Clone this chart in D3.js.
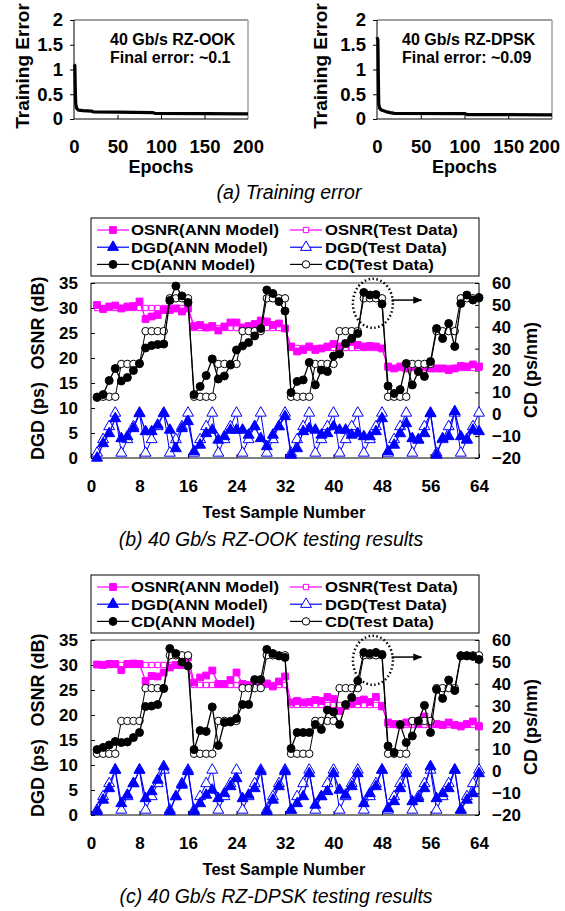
<!DOCTYPE html>
<html><head><meta charset="utf-8">
<script src="https://cdn.jsdelivr.net/npm/d3@7"></script>
<style>
body{margin:0;background:#fff}
svg{display:block}
text{font-family:"Liberation Sans",Arial,Helvetica,sans-serif}
</style>
</head><body>
<svg id="chart" width="565" height="911"></svg>
<script>
// ---------------- DATA ----------------
// (a) training error curves
const ookEpochs   = [0, 1, 1.5, 2, 3, 5, 10, 20, 22, 50, 90, 93, 150, 200];
const ookError    = [1.1, 1.08, 0.6, 0.3, 0.22, 0.18, 0.17, 0.16, 0.145, 0.14, 0.13, 0.115, 0.11, 0.105];
const dpskEpochs  = [0, 1, 1.5, 2, 3, 5, 10, 15, 20, 100, 103, 200];
const dpskError   = [1.65, 1.6, 0.9, 0.3, 0.22, 0.18, 0.15, 0.13, 0.115, 0.11, 0.09, 0.085];
const epochTicks  = [0, 50, 100, 150, 200];
const errorTicks  = [0, 0.5, 1, 1.5, 2];

// (b),(c) test samples 1..64
const samples = [1,2,3,4,5,6,7,8,9,10,11,12,13,14,15,16,17,18,19,20,21,22,23,24,25,26,27,28,29,30,31,32,
                 33,34,35,36,37,38,39,40,41,42,43,44,45,46,47,48,49,50,51,52,53,54,55,56,57,58,59,60,61,62,63,64];
const sampleTicks = [0, 8, 16, 24, 32, 40, 48, 56, 64];
const leftTicks   = [0, 5, 10, 15, 20, 25, 30, 35];
const cdTicks     = [-20, -10, 0, 10, 20, 30, 40, 50, 60];

// Test data (same set for both formats)
const osnrTest = [30,30,30,30,30,30,30,30,30,30,30,30,30,30,30,30,
                  26,26,26,26,26,26,26,26,26,26,26,26,26,26,26,26,
                  22,22,22,22,22,22,22,22,22,22,22,22,22,22,22,22,
                  18,18,18,18,18,18,18,18,18,18,18,18,18,18,18,18];
const dgdTest  = [1,3.7,6.3,9, 1,3.7,6.3,9, 1,3.7,6.3,9, 1,3.7,6.3,9,
                  1,3.7,6.3,9, 1,3.7,6.3,9, 1,3.7,6.3,9, 1,3.7,6.3,9,
                  1,3.7,6.3,9, 1,3.7,6.3,9, 1,3.7,6.3,9, 1,3.7,6.3,9,
                  1,3.7,6.3,9, 1,3.7,6.3,9, 1,3.7,6.3,9, 1,3.7,6.3,9];
const cdTest   = [8,8,8,8,23,23,23,23,38,38,38,38,53,53,53,53,
                  8,8,8,8,23,23,23,23,38,38,38,38,53,53,53,53,
                  8,8,8,8,23,23,23,23,38,38,38,38,53,53,53,53,
                  8,8,8,8,23,23,23,23,38,38,38,38,53,53,53,53];

// (b) RZ-OOK ANN model
const osnrAnnOOK = [30.6,29.8,30.3,30.5,29.9,30.3,30.4,31.3,27.8,28.3,28.6,29.6,29.6,29.9,29.3,29.9,
                    26.4,26.6,26.1,26.4,25.5,26.3,27.1,27.1,26.1,26.4,26.8,27.5,27.3,26.6,26.9,25.9,
                    22.3,21.3,21.6,22.3,21.6,21.9,22.3,22.8,22.3,22.9,23.3,22.6,22.3,22.4,22.3,21.9,
                    18.3,17.9,18.3,17.9,18.3,17.6,18.3,17.9,17.9,17.9,17.6,17.9,18.4,18.3,18.7,18.3];
const dgdAnnOOK  = [0,2.9,4.9,7.9,3.9,4.3,5.9,8.9,5.3,5.3,6.6,8.9,5.6,1.9,5.9,7.3,
                    1.3,2.6,4.9,5.6,3.6,4.3,5.6,5.6,5.6,4.6,6.3,3.9,2.3,4.6,6.3,8.3,
                    0.6,1.9,5.3,5.9,5.6,4.6,4.9,6.3,5.6,5.6,4.6,4.9,4.3,4.3,5.3,7.9,
                    1.3,2.6,4.9,6.9,3.9,3.6,4.9,8.9,0.6,3.9,4.3,9.3,4.3,3.6,5.6,5.3];
const cdAnnOOK   = [7.7,9.0,15.4,20.9,15.2,16.8,20.0,23.2,30.3,31.4,31.9,32.1,52.0,58.6,54.1,51.1,
                    9.0,12.7,17.7,25.3,16.1,17.5,22.5,29.4,31.2,32.8,35.8,39.2,56.8,55.2,51.5,47.2,
                    9.9,15.0,15.7,23.7,13.4,20.2,19.5,26.6,27.5,32.3,34.6,36.9,55.7,54.5,54.7,50.4,
                    12.9,9.5,11.3,23.2,13.4,19.5,17.3,24.1,39.2,34.6,41.5,31.0,50.6,54.5,52.2,53.4];

// (c) RZ-DPSK ANN model
const osnrAnnDPSK = [30.1,30.0,30.2,30.2,29.0,30.2,30.3,30.2,26.8,27.8,27.7,28.5,29.5,30.0,30.0,31.5,
                     26.5,27.5,27.9,28.9,26.2,26.2,27.0,28.5,26.2,26.0,26.2,26.0,26.3,25.7,26.7,27.7,
                     22.5,22.8,22.5,22.6,23.0,22.8,23.6,23.2,20.8,21.8,22.4,22.8,23.1,22.6,23.6,21.7,
                     18.5,18.2,18.0,18.5,18.7,18.3,19.7,18.5,18.2,18.0,18.5,18.0,17.7,18.2,18.7,17.7];
const dgdAnnDPSK  = [0.7,3,5.3,9,2.3,4,6.3,9,3.3,4.7,7,9.7,0.7,3.7,6,8.7,
                     0.7,2.3,4,5,3.3,4.3,5.7,7.3,3.3,4,5.3,8.7,0.7,3,5.7,8.7,
                     1,2.3,3.7,8.3,2,3.7,4.7,8.3,5,4,5.7,8.3,2.3,4.3,5.7,9,
                     1.3,2.7,5.3,8.3,2.7,3.3,5.3,9.7,3.3,4.3,5.3,9,1,3,4.3,8.3];
const cdAnnDPSK   = [9.9,10.9,12.0,13.6,13.1,13.4,15.4,17.7,29.6,29.8,30.5,37.8,56.1,53.8,49.9,48.1,
                     9.9,18.6,18.2,29.4,11.8,22.3,22.5,24.1,30.5,30.5,41.9,41.9,55.7,53.8,52.7,52.0,
                     10.4,17.7,17.7,17.7,21.4,19.1,28.0,27.1,21.4,30.5,33.7,41.3,54.3,53.8,54.3,53.4,
                     11.5,8.6,21.4,13.1,16.1,23.0,30.1,17.7,37.4,33.3,41.7,36.9,52.7,52.7,52.5,51.1];

// highlighted region (sample, CD) and arrow
const highlight = {x: 46.5, cd: 50.7};
const arrowFrom = {x: 49.6, cd: 52.2};
const arrowTo   = {x: 54.5, cd: 52.2};

const legendLabels = ["OSNR(ANN Model)","DGD(ANN Model)","CD(ANN Model)",
                      "OSNR(Test Data)","DGD(Test Data)","CD(Test Data)"];

// ---------------- DRAW ----------------
const MAG = "#ff00ff", BLUE = "#0000ff", BLK = "#000000", GRAY = "#a0a0a0";
const svg = d3.select("#chart");
const FONT = '"Liberation Sans",Arial,Helvetica,sans-serif';

svg.append("defs").append("marker")
  .attr("id","arrowhead").attr("viewBox","0 0 10 10").attr("refX",9).attr("refY",5)
  .attr("markerWidth",9).attr("markerHeight",9).attr("orient","auto")
  .attr("markerUnits","userSpaceOnUse")
  .append("path").attr("d","M0,1 L10,5 L0,9 Z").attr("fill","#000");

function styleAxis(g, size){
  g.select(".domain").remove();
  g.selectAll(".tick line").attr("stroke","#000").attr("stroke-width",1);
  g.selectAll(".tick text").attr("font-family",FONT).attr("font-weight","bold")
    .attr("font-size",size).attr("fill","#000");
}

function frame(g, x0, x1, y0, y1){
  g.append("line").attr("x1",x0).attr("x2",x1).attr("y1",y0).attr("y2",y0)
    .attr("stroke",GRAY).attr("stroke-width",2);
  g.append("line").attr("x1",x0).attr("x2",x0).attr("y1",y0).attr("y2",y1).attr("stroke","#000");
  g.append("line").attr("x1",x0).attr("x2",x1).attr("y1",y1).attr("y2",y1).attr("stroke","#000");
}

// ---- (a) training charts ----
function drawTrain(x0, x1, epochs, errs, line1, line2, textX, titleX, lastShift){
  const x = d3.scaleLinear().domain([0,200]).range([x0,x1]);
  const y = d3.scaleLinear().domain([0,2]).range([119,20]);
  const g = svg.append("g");
  g.append("line").attr("x1",x1).attr("x2",x1).attr("y1",20).attr("y2",119)
    .attr("stroke",GRAY).attr("stroke-width",1.5);
  frame(g, x0, x1, 20, 119);
  const ax = g.append("g").attr("transform",`translate(0,119)`)
    .call(d3.axisBottom(x).tickValues(epochTicks).tickSizeInner(-4).tickSizeOuter(0).tickPadding(21));
  styleAxis(ax, "18.5px");
  ax.selectAll(".tick line").filter(d => d===0 || d===200).remove();
  ax.selectAll(".tick text").filter(d => d===200).attr("dx", lastShift);
  const ay = g.append("g").attr("transform",`translate(${x0},0)`)
    .call(d3.axisLeft(y).tickValues(errorTicks).tickFormat(d3.format("")).tickSizeInner(4).tickSizeOuter(0).tickPadding(7));
  styleAxis(ay, "18.5px");
  g.append("path").datum(epochs.map((e,i)=>[e,errs[i]]))
    .attr("fill","none").attr("stroke","#000").attr("stroke-width",3.2).attr("stroke-linejoin","round")
    .attr("d", d3.line().x(d=>x(d[0])).y(d=>y(d[1])));
  g.append("text").attr("x",textX).attr("y",45).attr("font-size","16px").attr("font-weight","bold").text(line1);
  g.append("text").attr("x",textX).attr("y",63).attr("font-size","16px").attr("font-weight","bold").text(line2);
  g.append("text").attr("transform",`translate(${titleX},66) rotate(-90)`).attr("text-anchor","middle")
    .attr("dy","0.35em").attr("font-size","19px").attr("font-weight","bold").text("Training Error");
  g.append("text").attr("x",(x0+x1)/2).attr("y",167).attr("dy","0.35em").attr("text-anchor","middle")
    .attr("font-size","18px").attr("font-weight","bold").text("Epochs");
}
drawTrain(74, 248, ookEpochs, ookError, "40 Gb/s RZ-OOK", "Final error: ~0.1", 110, 22, 0);
drawTrain(377, 552, dpskEpochs, dpskError, "40 Gb/s RZ-DPSK", "Final error: ~0.09", 402, 320, -8);
svg.append("text").attr("x",289).attr("y",192).attr("dy","0.35em").attr("text-anchor","middle")
  .attr("font-size","19.5px").attr("font-style","italic").text("(a) Training error");

// ---- (b),(c) testing charts ----
const sqFilled = d3.symbol().type(d3.symbolSquare).size(46);
const sqOpen   = d3.symbol().type(d3.symbolSquare).size(28);
const triF     = d3.symbol().type(d3.symbolTriangle).size(52);
const triO     = d3.symbol().type(d3.symbolTriangle).size(52);
const circF    = d3.symbol().type(d3.symbolCircle).size(50);
const circO    = d3.symbol().type(d3.symbolCircle).size(44);

function drawTest(dy, osnrAnn, dgdAnn, cdAnn, caption, capX, capSize){
  const X0 = 91, X1 = 479, Y0 = 283 + dy, Y1 = 458 + dy;
  const x  = d3.scaleLinear().domain([0,64]).range([X0,X1]);
  const yL = d3.scaleLinear().domain([0,35]).range([Y1,Y0]);
  const yR = d3.scaleLinear().domain([-20,60]).range([Y1,Y0]);
  const g = svg.append("g");

  // legend
  const LY0 = 218 + dy, LY1 = 276 + dy;
  g.append("rect").attr("x",X0).attr("y",LY0).attr("width",X1-X0).attr("height",LY1-LY0)
    .attr("fill","#fff").attr("stroke","#000").attr("stroke-width",1);
  const rows = [230, 247.2, 264.4].map(v=>v+dy);
  const cols = [{lx:97,tx:131},{lx:290,tx:325}];
  const legendSpec = [
    {c:MAG, sym:sqFilled, fill:MAG}, {c:BLUE, sym:triF, fill:BLUE}, {c:BLK, sym:circF, fill:BLK},
    {c:MAG, sym:sqOpen, fill:"#fff"}, {c:BLUE, sym:triO, fill:"#fff"}, {c:BLK, sym:circO, fill:"#fff"}];
  legendSpec.forEach((s,i)=>{
    const col = cols[Math.floor(i/3)], ry = rows[i%3];
    g.append("line").attr("x1",col.lx).attr("x2",col.lx+32).attr("y1",ry).attr("y2",ry)
      .attr("stroke",s.c).attr("stroke-width",1.2);
    g.append("path").attr("d",s.sym()).attr("transform",`translate(${col.lx+16},${ry})`)
      .attr("fill",s.fill).attr("stroke",s.c).attr("stroke-width",1);
    const t = g.append("text").attr("x",col.tx).attr("y",ry).attr("dy","0.36em").attr("font-size","15px")
      .attr("font-weight","bold").text(legendLabels[i]);
    const w = t.node().getComputedTextLength();
    t.attr("textLength", w*1.11).attr("lengthAdjust","spacingAndGlyphs");
  });

  // frame and axes
  frame(g, X0, X1, Y0, Y1);
  g.append("line").attr("x1",X1).attr("x2",X1).attr("y1",Y0).attr("y2",Y1).attr("stroke","#000");
  const ax = g.append("g").attr("transform",`translate(0,${Y1})`)
    .call(d3.axisBottom(x).tickValues(sampleTicks).tickSizeInner(-4).tickSizeOuter(0).tickPadding(22));
  styleAxis(ax, "17px");
  const al = g.append("g").attr("transform",`translate(${X0},0)`)
    .call(d3.axisLeft(yL).tickValues(leftTicks).tickSizeInner(-4).tickSizeOuter(0).tickPadding(13));
  styleAxis(al, "17px");
  const ar = g.append("g").attr("transform",`translate(${X1},0)`)
    .call(d3.axisRight(yR).tickValues(cdTicks).tickSizeInner(-4).tickSizeOuter(0).tickPadding(13));
  styleAxis(ar, "17px");

  const lab = (tx,ty,rot,txt,size)=> g.append("text")
    .attr("transform",`translate(${tx},${ty})${rot?" rotate(-90)":""}`).attr("text-anchor","middle")
    .attr("dy","0.35em").attr("font-size",size).attr("font-weight","bold").text(txt);
  lab(38, 323+dy, true, "OSNR (dB)", "18px");
  lab(38, 421+dy, true, "DGD (ps)", "18px");
  lab(531, 370+dy, true, "CD (ps/nm)", "18px");
  lab(284, 512+dy, false, "Test Sample Number", "16.5px");
  g.append("text").attr("x",capX).attr("y",539+dy).attr("dy","0.35em").attr("text-anchor","middle")
    .attr("font-size",capSize).attr("font-style","italic").text(caption);

  // series
  function series(vals, yS, color, sym, fill, lw){
    const pts = samples.map((s,i)=>[x(s), yS(vals[i])]);
    g.append("path").attr("d",d3.line()(pts)).attr("fill","none").attr("stroke",color).attr("stroke-width",lw);
    g.append("g").selectAll("path").data(pts).join("path")
      .attr("d",sym()).attr("transform",d=>`translate(${d[0]},${d[1]})`)
      .attr("fill",fill).attr("stroke",color).attr("stroke-width",1);
  }
  series(osnrTest, yL, MAG, sqOpen, "#fff", 1);
  series(osnrAnn, yL, MAG, sqFilled, MAG, 1.3);
  series(dgdTest, yL, BLUE, triO, "#fff", 1);
  series(dgdAnn, yL, BLUE, triF, BLUE, 1.3);
  series(cdTest, yR, BLK, circO, "#fff", 1);
  series(cdAnn, yR, BLK, circF, BLK, 1.3);

  // highlight ellipse and arrow
  g.append("ellipse").attr("cx",x(highlight.x)).attr("cy",yR(highlight.cd)).attr("rx",20).attr("ry",24.5)
    .attr("fill","none").attr("stroke","#000").attr("stroke-width",2.5).attr("stroke-dasharray","1.5,2.5");
  g.append("line").attr("x1",x(arrowFrom.x)).attr("x2",x(arrowTo.x))
    .attr("y1",yR(arrowFrom.cd)).attr("y2",yR(arrowTo.cd))
    .attr("stroke","#000").attr("stroke-width",1.5).attr("marker-end","url(#arrowhead)");
}
drawTest(0, osnrAnnOOK, dgdAnnOOK, cdAnnOOK, "(b) 40 Gb/s RZ-OOK testing results", 271, "19.5px");
drawTest(357, osnrAnnDPSK, dgdAnnDPSK, cdAnnDPSK, "(c) 40 Gb/s RZ-DPSK testing results", 276, "19.5px");
</script>
</body></html>
